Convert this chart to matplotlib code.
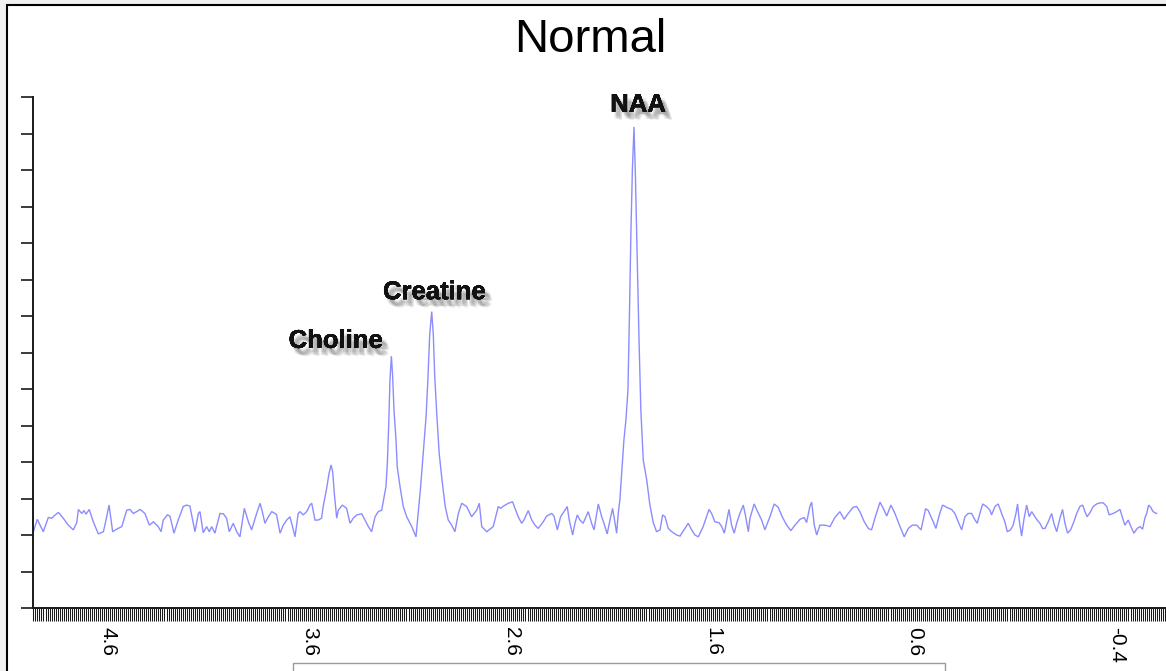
#!/usr/bin/env python3
"""
MR spectroscopy trace, "Normal" brain spectrum
"""
import numpy as np
import matplotlib
matplotlib.use("Agg")
import matplotlib.pyplot as plt
from matplotlib import patheffects as pe
from matplotlib.patches import Rectangle
from matplotlib.ticker import FixedLocator, MultipleLocator, NullFormatter

# ---------------------------------------------------------------------------
# Data
# ---------------------------------------------------------------------------

ppm = [
    4.970, 4.951, 4.937, 4.921, 4.896, 4.879, 4.868, 4.846, 4.822, 4.797,
    4.772, 4.755, 4.747, 4.730, 4.719, 4.709, 4.693, 4.673, 4.648, 4.623,
    4.610, 4.595, 4.577, 4.557, 4.532, 4.507, 4.491, 4.475, 4.458, 4.441,
    4.417, 4.395, 4.375, 4.351, 4.337, 4.326, 4.306, 4.293, 4.273, 4.252,
    4.227, 4.210, 4.194, 4.177, 4.169, 4.152, 4.144, 4.128, 4.111, 4.098,
    4.086, 4.070, 4.045, 4.028, 4.012, 3.999, 3.979, 3.962, 3.946, 3.924,
    3.904, 3.888, 3.863, 3.846, 3.835, 3.822, 3.805, 3.788, 3.772, 3.764,
    3.747, 3.731, 3.714, 3.698, 3.681, 3.673, 3.657, 3.648, 3.632, 3.615,
    3.599, 3.590, 3.574, 3.557, 3.541, 3.533, 3.516, 3.504, 3.494, 3.486,
    3.478, 3.466, 3.458, 3.438, 3.417, 3.400, 3.384, 3.367, 3.342, 3.326,
    3.309, 3.293, 3.276, 3.260, 3.243, 3.222, 3.215, 3.208, 3.202, 3.195,
    3.189, 3.182, 3.172, 3.166, 3.152, 3.136, 3.119, 3.094, 3.073, 3.062,
    3.050, 3.037, 3.023, 3.014, 3.005, 2.995, 2.987, 2.980, 2.970, 2.958,
    2.944, 2.928, 2.913, 2.896, 2.880, 2.863, 2.846, 2.822, 2.797, 2.772,
    2.759, 2.747, 2.722, 2.690, 2.665, 2.653, 2.640, 2.615, 2.594, 2.582,
    2.566, 2.549, 2.538, 2.516, 2.499, 2.483, 2.467, 2.442, 2.425, 2.400,
    2.389, 2.372, 2.356, 2.339, 2.323, 2.313, 2.296, 2.285, 2.273, 2.260,
    2.244, 2.230, 2.219, 2.202, 2.190, 2.169, 2.152, 2.141, 2.125, 2.111,
    2.098, 2.086, 2.078, 2.070, 2.062, 2.052, 2.042, 2.032, 2.022, 2.015,
    2.007, 2.000, 1.992, 1.985, 1.977, 1.967, 1.958, 1.946, 1.929, 1.913,
    1.896, 1.880, 1.863, 1.850, 1.838, 1.822, 1.805, 1.780, 1.764, 1.744,
    1.723, 1.706, 1.690, 1.673, 1.649, 1.620, 1.607, 1.591, 1.571, 1.557,
    1.544, 1.521, 1.508, 1.495, 1.483, 1.467, 1.450, 1.438, 1.425, 1.417,
    1.396, 1.379, 1.359, 1.343, 1.318, 1.297, 1.277, 1.257, 1.235, 1.214,
    1.194, 1.169, 1.148, 1.136, 1.120, 1.111, 1.098, 1.086, 1.070, 1.045,
    1.020, 0.996, 0.971, 0.950, 0.930, 0.905, 0.888, 0.872, 0.850, 0.830,
    0.814, 0.794, 0.772, 0.756, 0.739, 0.718, 0.698, 0.673, 0.652, 0.632,
    0.612, 0.590, 0.569, 0.558, 0.546, 0.533, 0.508, 0.495, 0.478, 0.462,
    0.442, 0.417, 0.401, 0.384, 0.367, 0.351, 0.335, 0.318, 0.301, 0.290,
    0.277, 0.263, 0.244, 0.227, 0.219, 0.202, 0.186, 0.169, 0.153, 0.141,
    0.125, 0.112, 0.098, 0.090, 0.082, 0.070, 0.059, 0.045, 0.032, 0.020,
    0.004, -0.007, -0.021, -0.034, -0.046, -0.062, -0.079, -0.090, -0.104, -0.120,
    -0.133, -0.145, -0.158, -0.173, -0.189, -0.203, -0.219, -0.233, -0.244, -0.255,
    -0.272, -0.285, -0.302, -0.318, -0.335, -0.352, -0.364, -0.384, -0.401, -0.418,
    -0.431, -0.442, -0.459, -0.472, -0.487, -0.503, -0.517, -0.530, -0.541, -0.550,
    -0.560, -0.570, -0.582, -0.599,
]

signal = [
    2.09, 2.43, 2.27, 2.09, 2.48, 2.46, 2.52, 2.62, 2.46, 2.27,
    2.14, 2.34, 2.70, 2.59, 2.67, 2.57, 2.70, 2.36, 2.03, 2.09,
    2.41, 2.82, 2.09, 2.16, 2.23, 2.68, 2.70, 2.59, 2.64, 2.70,
    2.59, 2.27, 2.36, 2.23, 2.09, 2.41, 2.55, 2.52, 2.05, 2.41,
    2.78, 2.82, 2.79, 2.32, 2.09, 2.59, 2.64, 2.06, 2.23, 2.09,
    2.23, 2.05, 2.59, 2.58, 2.46, 2.09, 2.32, 2.09, 1.95, 2.73,
    2.36, 2.14, 2.59, 2.87, 2.64, 2.32, 2.50, 2.64, 2.59, 2.55,
    2.05, 2.27, 2.41, 2.50, 2.14, 1.95, 2.59, 2.64, 2.55, 2.64,
    2.82, 2.87, 2.41, 2.41, 2.46, 2.78, 3.28, 3.69, 3.92, 3.73,
    3.14, 2.46, 2.68, 2.82, 2.73, 2.32, 2.46, 2.55, 2.58, 2.41,
    2.23, 2.09, 2.50, 2.64, 2.68, 3.32, 3.96, 5.06, 6.25, 6.90,
    6.38, 5.42, 4.60, 3.87, 3.32, 2.78, 2.50, 2.23, 1.95, 2.59,
    3.32, 4.24, 5.24, 6.25, 7.48, 8.12, 7.48, 6.34, 5.33, 4.24,
    3.51, 2.78, 2.41, 2.27, 2.09, 2.59, 2.87, 2.78, 2.50, 2.68,
    2.87, 2.23, 2.09, 2.23, 2.78, 2.73, 2.79, 2.87, 2.91, 2.73,
    2.50, 2.32, 2.41, 2.67, 2.41, 2.27, 2.18, 2.36, 2.52, 2.59,
    2.52, 2.14, 2.50, 2.64, 2.78, 2.41, 2.00, 2.32, 2.55, 2.41,
    2.32, 2.50, 2.64, 2.32, 2.14, 2.85, 2.50, 2.32, 2.03, 2.41,
    2.73, 2.32, 2.05, 2.59, 2.96, 3.78, 4.60, 5.15, 5.97, 7.89,
    10.36, 12.00, 13.18, 11.86, 9.81, 7.34, 5.42, 4.05, 3.51, 2.82,
    2.33, 2.09, 2.14, 2.55, 2.50, 2.18, 2.09, 2.00, 1.97, 2.14,
    2.32, 2.14, 2.00, 1.95, 2.23, 2.70, 2.59, 2.36, 2.34, 2.23,
    2.05, 2.70, 2.27, 2.05, 2.32, 2.59, 2.82, 2.50, 2.09, 2.46,
    2.85, 2.64, 2.41, 2.14, 2.50, 2.85, 2.76, 2.50, 2.27, 2.12,
    2.27, 2.43, 2.48, 2.34, 2.78, 2.90, 2.27, 2.00, 2.27, 2.27,
    2.23, 2.48, 2.64, 2.43, 2.59, 2.76, 2.78, 2.64, 2.36, 2.18,
    2.14, 2.52, 2.90, 2.73, 2.52, 2.82, 2.59, 2.23, 1.95, 2.18,
    2.27, 2.27, 2.14, 2.41, 2.72, 2.67, 2.36, 2.18, 2.55, 2.82,
    2.76, 2.70, 2.59, 2.36, 2.14, 2.50, 2.59, 2.59, 2.41, 2.32,
    2.59, 2.85, 2.78, 2.68, 2.55, 2.78, 2.85, 2.59, 2.36, 2.09,
    2.14, 2.27, 2.59, 2.85, 2.41, 1.97, 2.41, 2.82, 2.50, 2.64,
    2.50, 2.41, 2.32, 2.18, 2.18, 2.36, 2.59, 2.32, 2.09, 2.46,
    2.70, 2.32, 2.05, 2.14, 2.36, 2.59, 2.78, 2.82, 2.64, 2.50,
    2.64, 2.78, 2.85, 2.88, 2.88, 2.78, 2.55, 2.59, 2.64, 2.70,
    2.46, 2.27, 2.41, 2.23, 2.05, 2.18, 2.23, 2.16, 2.46, 2.59,
    2.82, 2.76, 2.64, 2.59,
]

peak_names = ["Choline", "Creatine", "NAA"]
peak_windows = [(3.10, 3.30), (2.90, 3.08), (1.90, 2.10)]   # ppm search ranges

xtick_values = [4.6, 3.6, 2.6, 1.6, 0.6, -0.4]

TITLE = "Normal"
LINE_COLOUR = "#8c8cff"
W_PX, H_PX = 1166, 671


# ---------------------------------------------------------------------------
# Plot
# ---------------------------------------------------------------------------

def shadow_effects():
    # soft drop shadow: several faint offset copies, then the text itself
    fx = []
    for dx, dy in [(2, -3), (3, -4), (4, -5), (5, -5), (3, -5), (4, -3), (5, -6), (2, -5)]:
        fx.append(pe.withSimplePatchShadow(offset=(dx, dy), shadow_rgbFace="0.35", alpha=0.10))
    fx.append(pe.Normal())
    return fx


def main() -> None:
    plt.rcParams["font.family"] = ["Liberation Sans", "DejaVu Sans"]

    x = np.asarray(ppm)
    y = np.asarray(signal)

    fig = plt.figure(figsize=(W_PX / 100, H_PX / 100), dpi=100)
    fig.patch.set_facecolor("#f0f0f0")

    # white picture area with its black frame (behind everything else)
    fig.add_artist(Rectangle((7 / W_PX, -0.1), 1.2, (H_PX - 5) / H_PX + 0.1,
                             transform=fig.transFigure, facecolor="white",
                             edgecolor="black", lw=1.5, zorder=-10))

    left = 33 / W_PX
    bottom = (H_PX - 608) / H_PX
    top = (H_PX - 97) / H_PX
    ax = fig.add_axes([left, bottom, 1.0 - left, top - bottom])
    ax.set_zorder(1)
    ax.patch.set_alpha(0)

    ax.plot(x, y, color=LINE_COLOUR, lw=1.0, solid_joinstyle="miter")

    ax.set_xlim(4.972, -0.646)
    ax.set_ylim(0, 14)

    for side in ("top", "right"):
        ax.spines[side].set_visible(False)
    for side in ("left", "bottom"):
        ax.spines[side].set_linewidth(1.4)
        ax.spines[side].set_color("#1a1a1a")

    # y: plain ticks, no numbers
    ax.yaxis.set_major_locator(MultipleLocator(1))
    ax.yaxis.set_major_formatter(NullFormatter())
    ax.tick_params(axis="y", direction="out", length=8.6, width=1.2, color="#1a1a1a")

    # x: dense comb of ticks, a few rotated labels
    ax.xaxis.set_major_locator(FixedLocator(xtick_values))
    ax.xaxis.set_minor_locator(MultipleLocator(0.01))
    ax.set_xticklabels([f"{v:g}" for v in xtick_values], rotation=-90,
                       ha="center", va="top")
    ax.tick_params(axis="x", which="both", direction="out", length=9.4,
                   width=0.75, color="#1a1a1a")
    ax.tick_params(axis="x", which="major", labelsize=15, pad=4)

    # peak labels
    offsets = {"Choline": (-40, 11), "Creatine": (2, 14), "NAA": (3, 16)}
    for name, (lo, hi) in zip(peak_names, peak_windows):
        m = (x >= lo) & (x <= hi)
        i = np.flatnonzero(m)[np.argmax(y[m])]
        ax.annotate(name, xy=(x[i], y[i]), xytext=offsets[name],
                    textcoords="offset points", ha="center", va="center",
                    fontsize=18.5, fontweight="bold", color="#111111",
                    path_effects=shadow_effects())

    fig.text(590 / W_PX, (H_PX - 40) / H_PX, TITLE, ha="center", va="center",
             fontsize=34, color="black")

    # bit of the legend box poking in at the bottom
    fig.add_artist(Rectangle((293 / W_PX, -0.05), (945 - 293) / W_PX,
                             0.05 + (H_PX - 663) / H_PX,
                             transform=fig.transFigure, fill=False,
                             edgecolor="#9a9a9a", lw=1.0, zorder=2))

    fig.savefig("out.png", dpi=100, facecolor=fig.get_facecolor())


if __name__ == "__main__":
    main()
